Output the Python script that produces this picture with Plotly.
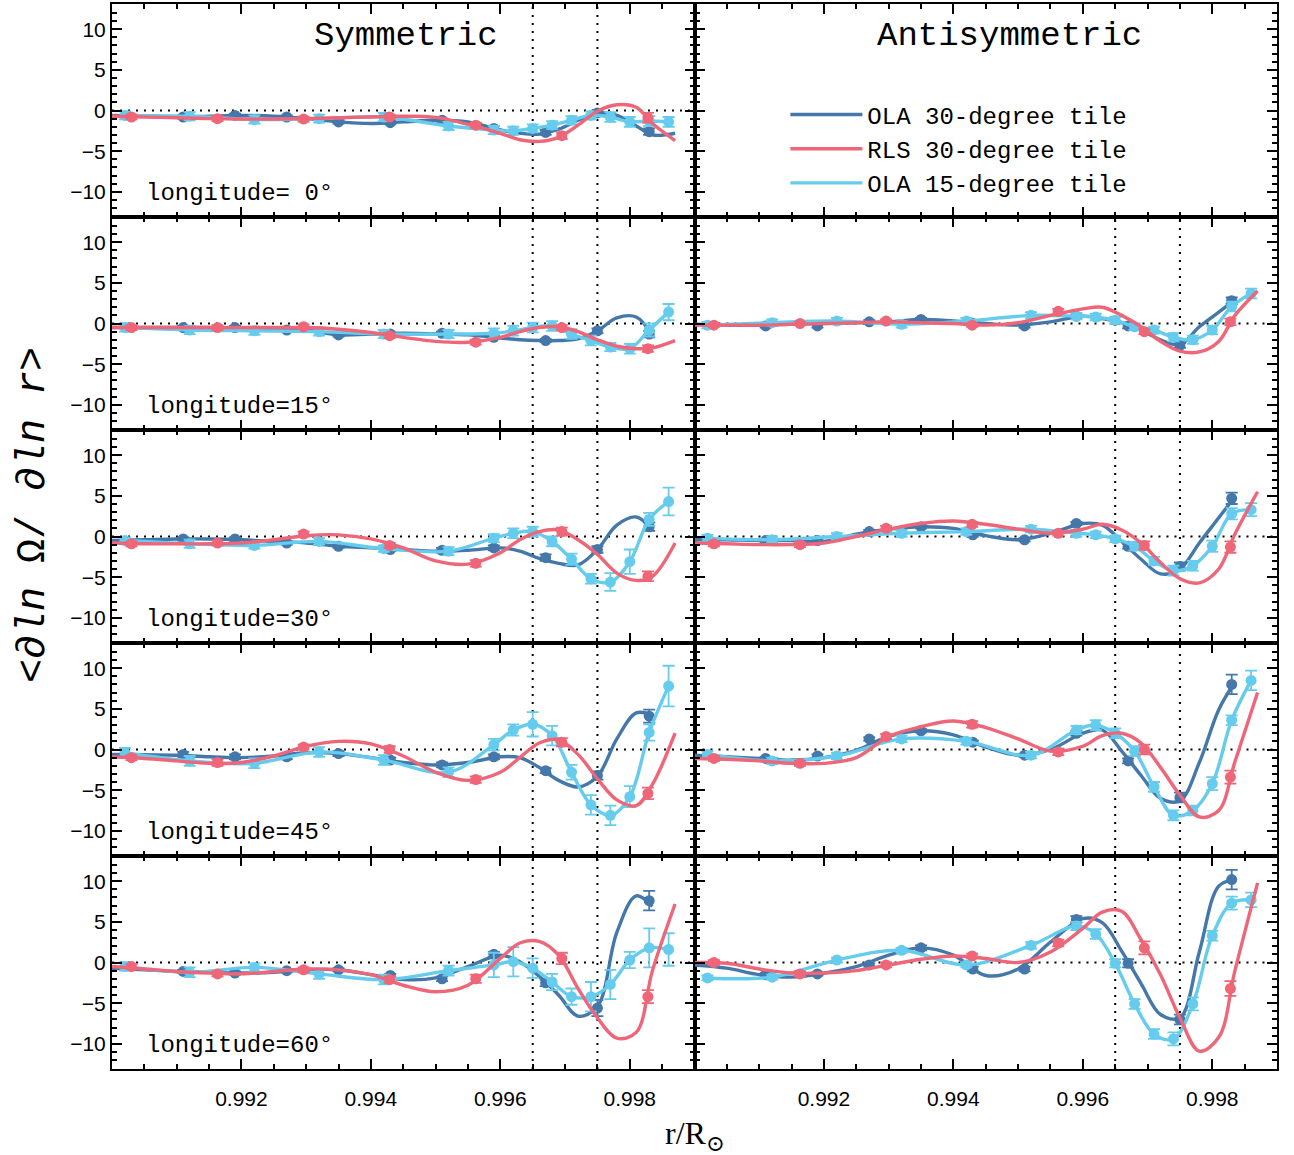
import plotly.graph_objects as go
from plotly.subplots import make_subplots

# ---------------- data ----------------
GRID_X = [0.9900, 0.9905, 0.9910, 0.9915, 0.9920, 0.9925, 0.9930, 0.9935, 0.9940, 0.9945, 0.9950,
          0.9955, 0.9960, 0.9963, 0.9966, 0.9969, 0.9972, 0.9975, 0.9978, 0.9981, 0.99835, 0.9987]
OLA30_X = [0.9911, 0.9919, 0.9927, 0.9935, 0.9943, 0.9951, 0.9959, 0.9967, 0.9975, 0.9983]
RLS_X = [0.99030, 0.99163, 0.99296, 0.99429, 0.99562, 0.99695, 0.99828]
OLA15_X = [0.9902, 0.9912, 0.9922, 0.9932, 0.9942, 0.9952, 0.9959, 0.9962, 0.9965, 0.9968,
           0.9971, 0.9974, 0.9977, 0.9980, 0.9983, 0.9986]

# Symmetric, longitude 0
sym00_rls_curve = [-0.7, -0.8, -0.9, -1.0, -1.05, -1.05, -1.0, -0.9, -0.8, -0.7, -0.85, -1.7, -2.8, -3.6, -3.8, -3.3, -1.8, -0.1, 0.7, 0.4, -1.6, -3.7]
sym00_rls_pts = [-0.8, -1.0, -1.05, -0.8, -1.8, -3.1, -0.9]
sym00_rls_err = [0.3, 0.3, 0.3, 0.3, 0.3, 0.4, 0.6]
sym00_ola30_curve = [-0.6, -0.7, -0.8, -0.7, -0.6, -0.7, -1.0, -1.4, -1.6, -1.4, -1.2, -1.4, -2.4, -2.8, -2.9, -2.3, -1.2, -0.3, -0.6, -1.9, -3.0, -2.8]
sym00_ola30_pts = [-0.8, -0.6, -0.8, -1.4, -1.5, -1.2, -2.2, -2.7, -0.3, -2.6]
sym00_ola30_err = [0.2, 0.2, 0.2, 0.2, 0.2, 0.2, 0.3, 0.3, 0.3, 0.4]
sym00_ola15_pts = [-0.6, -0.7, -1.1, -1.0, -0.8, -1.9, -2.4, -2.5, -2.2, -1.8, -1.2, -0.6, -0.8, -1.4, -1.3, -1.4]
sym00_ola15_err = [0.5, 0.5, 0.5, 0.5, 0.5, 0.5, 0.5, 0.5, 0.5, 0.5, 0.5, 0.5, 0.6, 0.6, 0.6, 0.6]

# Symmetric, longitude 15
sym15_rls_curve = [-0.5, -0.5, -0.5, -0.5, -0.5, -0.5, -0.5, -0.7, -1.1, -1.7, -2.2, -2.3, -1.7, -1.0, -0.5, -0.4, -1.0, -2.0, -2.8, -3.1, -3.0, -2.1]
sym15_rls_pts = [-0.5, -0.5, -0.4, -1.5, -2.3, -0.5, -3.1]
sym15_rls_err = [0.3, 0.3, 0.3, 0.3, 0.3, 0.3, 0.4]
sym15_ola30_curve = [-0.5, -0.5, -0.5, -0.5, -0.6, -0.7, -0.8, -1.4, -1.3, -1.2, -1.3, -1.4, -1.8, -2.0, -2.1, -2.1, -1.9, -0.9, 0.7, 0.8, -1.5, None]
sym15_ola30_pts = [-0.5, -0.5, -0.8, -1.4, -1.3, -1.2, -1.7, -2.1, -0.9, -1.3]
sym15_ola30_err = [0.2, 0.2, 0.2, 0.2, 0.2, 0.2, 0.2, 0.2, 0.3, 0.4]
sym15_ola15_pts = [-0.5, -0.8, -0.9, -1.0, -1.3, -1.3, -1.2, -0.9, -0.5, -0.3, -1.3, -2.1, -2.9, -3.1, -0.8, 1.4]
sym15_ola15_err = [0.5, 0.5, 0.5, 0.5, 0.5, 0.5, 0.6, 0.6, 0.6, 0.6, 0.6, 0.6, 0.5, 0.6, 0.8, 1.0]

# Antisymmetric, longitude 15
anti15_rls_curve = [-0.2, -0.2, -0.2, -0.1, 0.0, 0.1, 0.2, 0.1, 0.0, -0.2, 0.1, 1.0, 1.8, 2.0, 1.0, -0.4, -2.2, -3.4, -3.5, -2.2, 1.0, 4.0]
anti15_rls_pts = [-0.2, 0.0, 0.3, -0.2, 1.5, -1.0, 0.2]
anti15_rls_err = [0.2, 0.2, 0.2, 0.2, 0.3, 0.3, 0.4]
anti15_ola30_curve = [-0.1, -0.2, -0.2, -0.1, 0.0, 0.1, 0.2, 0.5, 0.3, 0.0, -0.2, 0.2, 0.9, 0.6, 0.1, -0.8, -2.0, -2.6, -0.4, 1.4, 2.9, None]
anti15_ola30_pts = [-0.3, -0.3, 0.2, 0.5, 0.0, -0.3, 0.9, -0.3, -2.7, 2.8]
anti15_ola30_err = [0.2, 0.2, 0.2, 0.2, 0.2, 0.2, 0.2, 0.3, 0.3, 0.4]
anti15_ola15_pts = [-0.2, 0.1, 0.3, -0.1, 0.3, 1.0, 0.9, 0.8, 0.4, -0.4, -0.8, -1.7, -2.0, -0.8, 2.1, 3.7]
anti15_ola15_err = [0.4, 0.4, 0.4, 0.4, 0.4, 0.4, 0.4, 0.4, 0.4, 0.4, 0.4, 0.5, 0.5, 0.5, 0.6, 0.6]

# Symmetric, longitude 30
sym30_rls_curve = [-0.8, -0.9, -0.9, -0.9, -0.8, -0.4, 0.1, 0.2, -0.3, -1.4, -3.0, -3.4, -2.0, -0.4, 0.6, 0.8, -0.4, -2.2, -4.5, -5.4, -4.9, -0.8]
sym30_rls_pts = [-0.9, -0.8, 0.3, -1.1, -3.3, 0.6, -4.9]
sym30_rls_err = [0.3, 0.3, 0.3, 0.3, 0.4, 0.5, 0.6]
sym30_ola30_curve = [-0.5, -0.4, -0.3, -0.3, -0.4, -0.6, -0.8, -1.2, -1.4, -1.6, -1.8, -1.7, -1.4, -1.8, -2.7, -3.3, -3.5, -1.6, 1.4, 2.4, 0.8, None]
sym30_ola30_pts = [-0.3, -0.3, -0.8, -1.2, -1.6, -1.7, -1.4, -2.6, -1.6, 1.2]
sym30_ola30_err = [0.2, 0.2, 0.2, 0.2, 0.2, 0.3, 0.3, 0.4, 0.4, 0.5]
sym30_ola15_pts = [-0.5, -0.9, -1.1, -0.6, -1.5, -1.8, -0.2, 0.4, 0.6, -0.6, -2.8, -5.2, -5.6, -3.1, 2.1, 4.3]
sym30_ola15_err = [0.4, 0.5, 0.4, 0.4, 0.4, 0.5, 0.5, 0.6, 0.6, 0.6, 0.7, 0.6, 1.1, 1.5, 0.8, 1.7]

# Antisymmetric, longitude 30
anti30_rls_curve = [-0.8, -0.9, -1.0, -1.0, -0.8, 0.0, 0.9, 1.6, 1.9, 1.5, 0.9, 0.4, 0.9, 1.5, 0.8, -0.8, -3.2, -5.2, -5.7, -4.0, 0.3, 5.5]
anti30_rls_pts = [-0.9, -1.0, 1.0, 1.5, 0.4, -1.1, -1.3]
anti30_rls_err = [0.3, 0.3, 0.3, 0.3, 0.3, 0.5, 0.7]
anti30_ola30_curve = [-0.4, -0.4, -0.5, -0.5, -0.6, 0.3, 0.9, 1.2, 1.0, 0.1, -0.4, 0.4, 1.6, 1.4, -0.6, -2.8, -4.6, -4.0, -0.8, 2.3, 4.9, None]
anti30_ola30_pts = [-0.5, -0.5, 0.6, 1.2, 0.2, -0.4, 1.6, -1.2, -3.7, 4.7]
anti30_ola30_err = [0.2, 0.2, 0.2, 0.2, 0.2, 0.2, 0.2, 0.3, 0.5, 0.7]
anti30_ola15_pts = [-0.2, -0.4, 0.0, 0.4, 0.6, 0.9, 0.4, 0.2, -0.3, -1.2, -3.0, -4.2, -3.6, -1.2, 2.8, 3.3]
anti30_ola15_err = [0.4, 0.4, 0.4, 0.4, 0.4, 0.4, 0.4, 0.4, 0.4, 0.5, 0.5, 0.6, 0.6, 0.7, 0.7, 0.8]

# Symmetric, longitude 45
sym45_rls_curve = [-0.9, -1.1, -1.4, -1.7, -1.6, -0.8, 0.4, 1.0, 0.7, -0.8, -2.8, -3.8, -2.8, -1.0, 0.8, 1.2, -0.6, -3.6, -6.2, -6.9, -4.3, 2.0]
sym45_rls_pts = [-1.0, -1.6, 0.3, 0.0, -3.7, 0.9, -5.4]
sym45_rls_err = [0.3, 0.4, 0.3, 0.4, 0.4, 0.5, 0.7]
sym45_ola30_curve = [-0.6, -0.65, -0.7, -0.9, -1.0, -0.8, -0.4, -0.5, -1.0, -1.6, -1.9, -1.6, -0.9, -1.0, -2.2, -3.8, -4.6, -3.3, 1.3, 4.5, 4.2, None]
sym45_ola30_pts = [-0.6, -0.9, -0.9, -0.5, -1.3, -1.9, -0.9, -2.6, -3.2, 4.1]
sym45_ola30_err = [0.3, 0.3, 0.3, 0.3, 0.3, 0.3, 0.3, 0.3, 0.5, 0.8]
sym45_ola15_pts = [-0.4, -1.4, -1.7, -0.3, -1.3, -2.8, 0.6, 2.4, 3.1, 1.7, -2.8, -6.8, -8.1, -5.8, 2.1, 7.8]
sym45_ola15_err = [0.6, 0.6, 0.6, 0.6, 0.6, 0.6, 0.7, 0.7, 1.5, 1.2, 0.9, 1.2, 1.2, 1.3, 1.0, 2.5]

# Antisymmetric, longitude 45
anti45_rls_curve = [-1.1, -1.2, -1.4, -1.7, -1.7, -1.0, 1.6, 2.8, 3.5, 2.7, 1.3, -0.2, 0.4, 1.7, 2.0, 0.8, -2.2, -5.6, -8.3, -7.5, -1.5, 7.0]
anti45_rls_pts = [-1.1, -1.7, 1.6, 3.1, -0.3, 0.0, -3.4]
anti45_rls_err = [0.3, 0.3, 0.3, 0.4, 0.4, 0.6, 0.8]
anti45_ola30_curve = [-0.7, -0.9, -1.1, -1.3, -1.0, -0.1, 1.6, 2.3, 1.8, 0.3, -0.7, 0.0, 2.0, 2.4, -0.2, -3.2, -6.0, -6.3, -1.6, 4.9, 8.3, None]
anti45_ola30_pts = [-1.1, -0.8, 1.3, 2.3, 0.9, -0.7, 2.0, -1.4, -5.9, 8.0]
anti45_ola30_err = [0.2, 0.2, 0.2, 0.2, 0.2, 0.2, 0.3, 0.3, 0.6, 1.2]
anti45_ola15_pts = [-0.6, -1.4, -0.8, 1.3, 1.0, -0.7, 2.4, 3.0, 2.0, -0.2, -4.6, -8.1, -7.5, -4.2, 3.6, 8.5]
anti45_ola15_err = [0.4, 0.4, 0.4, 0.4, 0.4, 0.4, 0.5, 0.6, 0.6, 0.6, 0.6, 0.6, 0.6, 0.8, 0.6, 1.2]

# Symmetric, longitude 60
sym60_rls_curve = [-0.5, -0.8, -1.1, -1.3, -1.4, -1.1, -0.8, -0.9, -1.5, -2.8, -3.6, -2.8, 0.5, 2.4, 2.6, 0.9, -3.2, -6.8, -9.3, -8.6, -1.0, 7.2]
sym60_rls_pts = [-0.5, -1.4, -0.9, -2.1, -2.0, 0.5, -4.2]
sym60_rls_err = [0.3, 0.3, 0.3, 0.4, 0.5, 0.7, 0.8]
sym60_ola30_curve = [-0.7, -0.9, -1.1, -1.2, -1.3, -1.2, -0.9, -0.9, -1.5, -2.1, -1.9, -0.5, 0.9, 0.1, -1.7, -4.0, -6.6, -5.4, 3.7, 8.2, 6.9, None]
sym60_ola30_pts = [-1.1, -1.3, -1.0, -0.9, -1.6, -2.0, 1.0, -2.5, -5.6, 7.6]
sym60_ola30_err = [0.2, 0.2, 0.2, 0.2, 0.2, 0.3, 0.3, 0.4, 1.0, 1.2]
sym60_ola15_pts = [-0.5, -1.2, -0.6, -1.4, -2.1, -1.0, -0.3, 0.1, -0.7, -2.4, -4.2, -4.2, -2.7, 0.3, 1.8, 1.6]
sym60_ola15_err = [0.5, 0.6, 0.5, 0.6, 0.6, 0.6, 1.5, 1.8, 1.2, 1.0, 1.0, 1.8, 1.8, 1.0, 2.4, 2.0]

# Antisymmetric, longitude 60
anti60_rls_curve = [0.0, -0.1, -0.8, -1.3, -1.3, -1.0, -0.3, 0.4, 0.8, 0.5, 0.0, 1.3, 4.2, 6.2, 6.3, 2.8, -1.5, -6.8, -10.9, -9.2, -1.0, 9.8]
anti60_rls_pts = [0.0, -1.4, -0.3, 0.8, 2.4, 1.8, -3.2]
anti60_rls_err = [0.3, 0.3, 0.3, 0.3, 0.4, 0.8, 0.9]
anti60_ola30_curve = [-0.3, -0.7, -1.5, -1.8, -1.3, -0.5, 0.9, 1.8, 0.9, -1.6, -0.8, 2.5, 5.4, 4.9, 1.4, -2.6, -6.4, -6.8, 1.3, 9.4, 10.2, None]
anti60_ola30_pts = [-1.5, -1.4, -0.3, 1.8, -0.8, -0.8, 5.3, -0.1, -7.0, 10.2]
anti60_ola30_err = [0.2, 0.2, 0.2, 0.3, 0.3, 0.3, 0.4, 0.5, 0.6, 1.2]
anti60_ola15_pts = [-1.9, -1.8, 0.3, 1.5, -0.3, 2.1, 4.5, 3.5, -0.1, -5.1, -8.8, -9.4, -5.1, 3.3, 7.3, 7.7]
anti60_ola15_err = [0.3, 0.3, 0.3, 0.3, 0.3, 0.4, 0.5, 0.6, 0.5, 0.6, 0.6, 0.8, 0.8, 0.6, 0.8, 0.9]

LONGITUDES = ["0", "15", "30", "45", "60"]
VLINES = [0.9965, 0.9975]
X_TICKS = [0.992, 0.994, 0.996, 0.998]
Y_TICKS = [-10, -5, 0, 5, 10]

# panel -> (row, col, data)
PANELS = [
    (1, 1, sym00_ola30_curve, sym00_ola30_pts, sym00_ola30_err, sym00_ola15_pts, sym00_ola15_err, sym00_rls_curve, sym00_rls_pts, sym00_rls_err),
    (2, 1, sym15_ola30_curve, sym15_ola30_pts, sym15_ola30_err, sym15_ola15_pts, sym15_ola15_err, sym15_rls_curve, sym15_rls_pts, sym15_rls_err),
    (2, 2, anti15_ola30_curve, anti15_ola30_pts, anti15_ola30_err, anti15_ola15_pts, anti15_ola15_err, anti15_rls_curve, anti15_rls_pts, anti15_rls_err),
    (3, 1, sym30_ola30_curve, sym30_ola30_pts, sym30_ola30_err, sym30_ola15_pts, sym30_ola15_err, sym30_rls_curve, sym30_rls_pts, sym30_rls_err),
    (3, 2, anti30_ola30_curve, anti30_ola30_pts, anti30_ola30_err, anti30_ola15_pts, anti30_ola15_err, anti30_rls_curve, anti30_rls_pts, anti30_rls_err),
    (4, 1, sym45_ola30_curve, sym45_ola30_pts, sym45_ola30_err, sym45_ola15_pts, sym45_ola15_err, sym45_rls_curve, sym45_rls_pts, sym45_rls_err),
    (4, 2, anti45_ola30_curve, anti45_ola30_pts, anti45_ola30_err, anti45_ola15_pts, anti45_ola15_err, anti45_rls_curve, anti45_rls_pts, anti45_rls_err),
    (5, 1, sym60_ola30_curve, sym60_ola30_pts, sym60_ola30_err, sym60_ola15_pts, sym60_ola15_err, sym60_rls_curve, sym60_rls_pts, sym60_rls_err),
    (5, 2, anti60_ola30_curve, anti60_ola30_pts, anti60_ola30_err, anti60_ola15_pts, anti60_ola15_err, anti60_rls_curve, anti60_rls_pts, anti60_rls_err),
]

# ---------------- styling ----------------
C_OLA30 = "#4477AA"
C_RLS = "#EE6677"
C_OLA15 = "#66CCEE"
MONO = "Liberation Mono, DejaVu Sans Mono, monospace"
SANS = "Liberation Sans, Arial, sans-serif"
SERIF = "Liberation Serif, DejaVu Serif, serif"
LW = 3.4
MS = 11

fig = make_subplots(rows=5, cols=2, horizontal_spacing=0, vertical_spacing=0)


def err(arr, color):
    return dict(type="data", array=arr, visible=True, thickness=1.8, width=6, color=color)


first = True
for (r, c, o30c, o30p, o30e, o15p, o15e, rlsc, rlsp, rlse) in PANELS:
    # OLA 30-degree
    fig.add_trace(go.Scatter(x=GRID_X, y=o30c, mode="lines", line=dict(color=C_OLA30, width=LW, shape="spline"),
                             name="OLA 30-degree tile", legendrank=1, showlegend=first, hoverinfo="skip"), row=r, col=c)
    fig.add_trace(go.Scatter(x=OLA30_X, y=o30p, mode="markers", marker=dict(color=C_OLA30, size=MS),
                             error_y=err(o30e, C_OLA30), showlegend=False), row=r, col=c)
    # OLA 15-degree
    fig.add_trace(go.Scatter(x=OLA15_X, y=o15p, mode="lines", line=dict(color=C_OLA15, width=LW, shape="spline"),
                             name="OLA 15-degree tile", legendrank=3, showlegend=first, hoverinfo="skip"), row=r, col=c)
    fig.add_trace(go.Scatter(x=OLA15_X, y=o15p, mode="markers", marker=dict(color=C_OLA15, size=MS),
                             error_y=err(o15e, C_OLA15), showlegend=False), row=r, col=c)
    # RLS 30-degree
    fig.add_trace(go.Scatter(x=GRID_X, y=rlsc, mode="lines", line=dict(color=C_RLS, width=LW, shape="spline"),
                             name="RLS 30-degree tile", legendrank=2, showlegend=first, hoverinfo="skip"), row=r, col=c)
    fig.add_trace(go.Scatter(x=RLS_X, y=rlsp, mode="markers", marker=dict(color=C_RLS, size=MS),
                             error_y=err(rlse, C_RLS), showlegend=False), row=r, col=c)
    first = False

    # reference lines
    for xv in VLINES:
        fig.add_vline(x=xv, line=dict(color="black", width=2, dash="2px,6px"), layer="below", row=r, col=c)
    fig.add_hline(y=0, line=dict(color="black", width=2, dash="2px,6px"), layer="below", row=r, col=c)

# empty top-right panel (holds title and legend only)
fig.add_trace(go.Scatter(x=[None], y=[None], mode="lines", showlegend=False, hoverinfo="skip"), row=1, col=2)

# axes
for r in range(1, 6):
    for c in range(1, 3):
        fig.update_xaxes(range=[0.990, 0.999], tickvals=X_TICKS, ticktext=[f"{v:.3f}" for v in X_TICKS],
                         showticklabels=(r == 5), ticks="inside", ticklen=10, tickwidth=1.5, tickcolor="black",
                         minor=dict(dtick=0.0005, tick0=0.990, ticks="inside", ticklen=5, tickwidth=1.5, tickcolor="black"),
                         showline=True, linecolor="black", linewidth=2, mirror="allticks", showgrid=False,
                         zeroline=False, tickfont=dict(family=SANS, size=21, color="black"),
                         ticklabelstandoff=10, row=r, col=c)
        fig.update_yaxes(range=[-13.1, 13.1], tickvals=Y_TICKS, showticklabels=(c == 1),
                         ticks="inside", ticklen=10, tickwidth=1.5, tickcolor="black",
                         minor=dict(dtick=1, tick0=0, ticks="inside", ticklen=5, tickwidth=1.5, tickcolor="black"),
                         showline=True, linecolor="black", linewidth=2, mirror="allticks", showgrid=False,
                         zeroline=False, tickfont=dict(family=SANS, size=21, color="black"),
                         row=r, col=c)

# panel texts
for i, lon in enumerate(LONGITUDES):
    lab = f"longitude={lon:>2}°"
    fig.add_annotation(text=lab.replace(" ", "&nbsp;"), xref=f"x{2*i+1 if i else ''} domain",
                       yref=f"y{2*i+1 if i else ''} domain", x=0.055, y=0.11, xanchor="left", yanchor="middle",
                       showarrow=False, font=dict(family=MONO, size=24, color="black"))

fig.add_annotation(text="Symmetric", xref="x domain", yref="y domain", x=0.505, y=0.85,
                   xanchor="center", yanchor="middle", showarrow=False,
                   font=dict(family=MONO, size=34, color="black"))
fig.add_annotation(text="Antisymmetric", xref="x2 domain", yref="y2 domain", x=0.54, y=0.85,
                   xanchor="center", yanchor="middle", showarrow=False,
                   font=dict(family=MONO, size=34, color="black"))

fig.add_annotation(text="r/R<sub>⊙</sub>", xref="paper", yref="paper", x=0.5, y=-0.062,
                   xanchor="center", yanchor="middle", showarrow=False,
                   font=dict(family=SERIF, size=32, color="black"))
fig.add_annotation(text="&lt;∂<i>ln</i> Ω/ ∂<i>ln r</i>&gt;", xref="paper", yref="paper", x=-0.068, y=0.52,
                   xanchor="center", yanchor="middle", textangle=-90, showarrow=False,
                   font=dict(family=MONO, size=40, color="black"))

fig.update_layout(
    width=1294, height=1155,
    margin=dict(l=112, r=17, t=2, b=86),
    plot_bgcolor="white", paper_bgcolor="white",
    showlegend=True,
    legend=dict(x=0.578, y=0.917, xanchor="left", yanchor="top", bgcolor="rgba(0,0,0,0)",
                font=dict(family=MONO, size=24, color="black"), itemwidth=72, tracegroupgap=0),
)

fig.write_html("out.html")
